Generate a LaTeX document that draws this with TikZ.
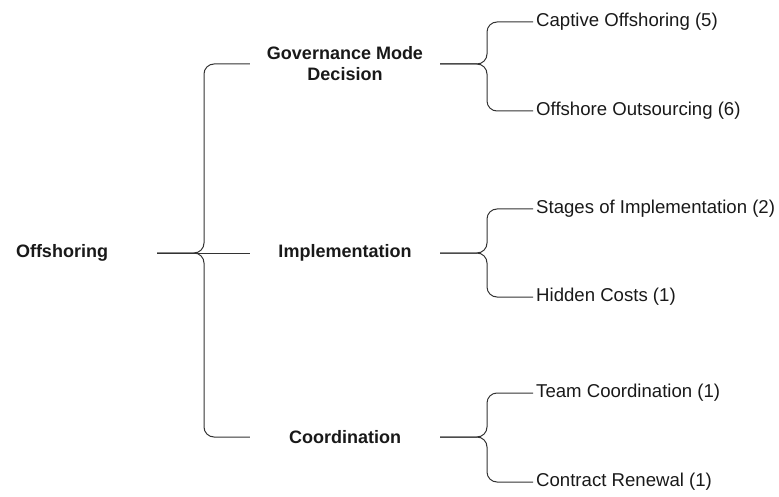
\documentclass[tikz,border=0pt]{standalone}
\usepackage{fontspec}
\setmainfont{Liberation Sans}
\begin{document}
\begin{tikzpicture}[x=1pt,y=-1pt,
    brace/.style={draw=black!80,line width=1pt,rounded corners=10pt},
    topic/.style={font=\bfseries\fontsize{18}{21}\selectfont,align=center,minimum width=190pt,inner sep=0pt,text=black!90},
    leaf/.style={font=\fontsize{18.6}{21}\selectfont,anchor=west,inner xsep=3pt,inner ysep=0pt,text=black!90}]
    \useasboundingbox (0,0) rectangle (779,497);

    \node[topic,minimum width=0pt] (offshoring) at (62,253) {Offshoring};
    \node[topic] (governance) at (345,64) {Governance Mode\\Decision};
    \node[topic] (implementation) at (345,253) {Implementation};
    \node[topic] (coordination) at (345,437) {Coordination};

    \node[leaf] (captive) at (533,22) {Captive Offshoring (5)};
    \node[leaf] (outsourcing) at (533,111) {Offshore Outsourcing (6)};
    \node[leaf] (stages) at (533,209) {Stages of Implementation (2)};
    \node[leaf] (hidden) at (533,297) {Hidden Costs (1)};
    \node[leaf] (team) at (533,393) {Team Coordination (1)};
    \node[leaf] (contract) at (533,482) {Contract Renewal (1)};

    % left brace
    \coordinate (rootout) at (157,253);
    \coordinate (lt) at (204,64);
    \coordinate (lb) at (204,437);
    \draw[brace] (rootout) -- (implementation.west);
    \draw[brace] (rootout) -| (lt) -- (governance.west);
    \draw[brace] (rootout) -| (lb) -- (coordination.west);

    % right braces
    \coordinate (gt) at (487,22);
    \coordinate (gb) at (487,111);
    \coordinate (it) at (487,209);
    \coordinate (ib) at (487,297);
    \coordinate (ct) at (487,393);
    \coordinate (cb) at (487,482);
    \draw[brace] (governance.east) -| (gt) -- (captive.west);
    \draw[brace] (governance.east) -| (gb) -- (outsourcing.west);
    \draw[brace] (implementation.east) -| (it) -- (stages.west);
    \draw[brace] (implementation.east) -| (ib) -- (hidden.west);
    \draw[brace] (coordination.east) -| (ct) -- (team.west);
    \draw[brace] (coordination.east) -| (cb) -- (contract.west);
\end{tikzpicture}
\end{document}
